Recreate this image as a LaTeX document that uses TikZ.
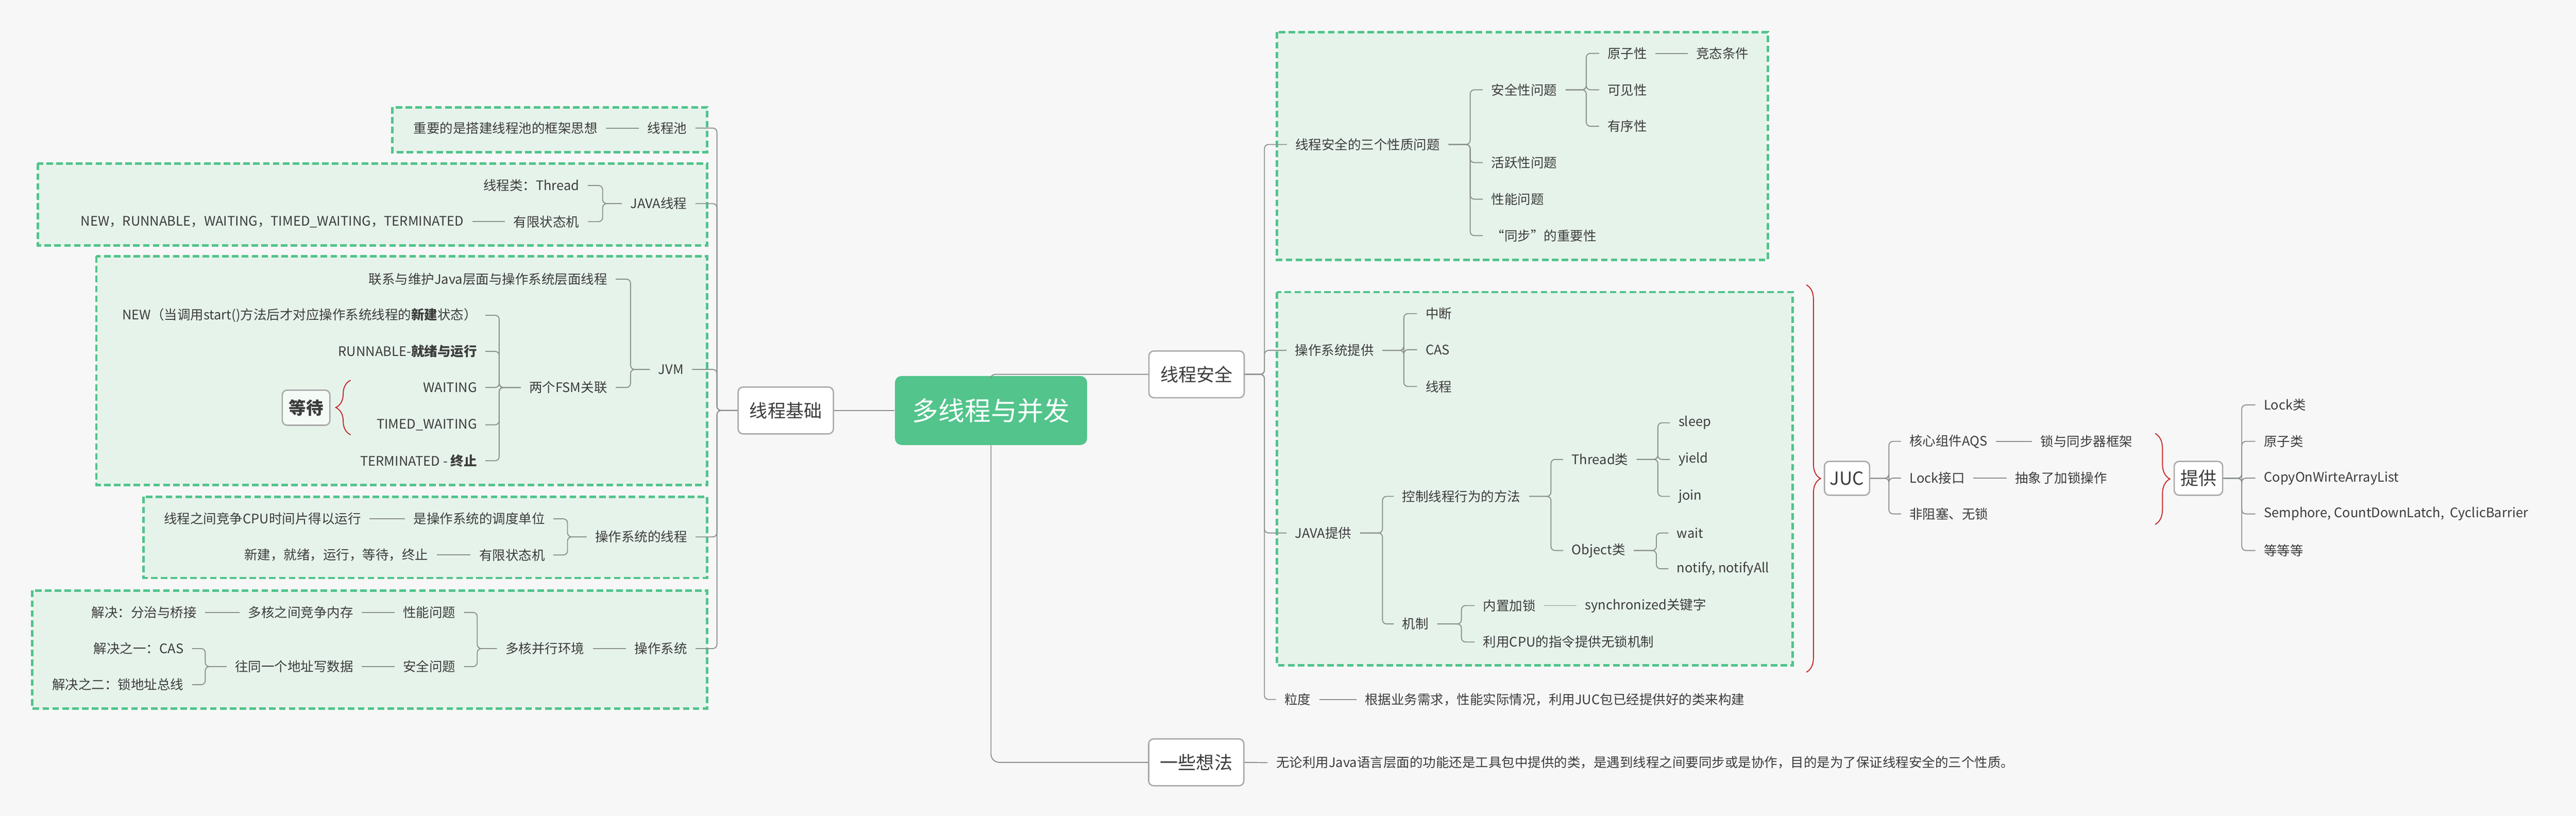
\documentclass[tikz,border=0pt]{standalone}
\usepackage{fontspec}
\setmainfont{Noto Sans CJK SC}
\usepackage{tikz}
\usetikzlibrary{decorations.pathreplacing}
\definecolor{paper}{HTML}{F7F7F7}
\definecolor{ink}{HTML}{3C3C3C}
\definecolor{wire}{HTML}{8C918E}
\definecolor{edge}{HTML}{A8A8A8}
\definecolor{rootgreen}{HTML}{52C48C}
\definecolor{zonegreen}{HTML}{52C48C}
\definecolor{zonefill}{HTML}{E6F3EB}
\definecolor{bracered}{HTML}{C42A2A}
\tikzset{
  txt/.style={font=\fontsize{8}{10}\selectfont, text=ink, inner xsep=5pt, inner ysep=2pt},
  lft/.style={txt, anchor=east},
  rgt/.style={txt, anchor=west},
  topic/.style={draw=edge, fill=white, line width=0.8pt, rounded corners=3pt, text=ink,
    font=\fontsize{11}{13}\selectfont, inner xsep=2pt, minimum width=58pt, minimum height=28.5pt},
  subtopic/.style={topic, minimum width=#1, minimum height=20.6pt},
  root/.style={fill=rootgreen, rounded corners=4pt, text=white, font=\fontsize{16}{18}\selectfont,
    minimum width=117pt, minimum height=42pt},
  zone/.style={draw=zonegreen, fill=zonefill, line width=1.5pt, dash pattern=on 4pt off 2pt},
  link/.style={draw=wire, line width=0.6pt, rounded corners=2.5pt},
  redbrace/.style={draw=bracered, line width=0.6pt, decorate, decoration={brace, amplitude=#1}}
}
\begin{document}
\begin{tikzpicture}[x=1pt, y=-1pt]
\fill[paper] (0,0) rectangle (1568.75,496.875);
\useasboundingbox (0,0) rectangle (1568.75,496.875);

\draw[zone] (239,65.3) rectangle (430.7,92.6);
\draw[zone] (23,99.6) rectangle (430.7,149.5);
\draw[zone] (58.7,156) rectangle (430.7,295.3);
\draw[zone] (87.3,302.6) rectangle (430.7,352);
\draw[zone] (19.7,359.7) rectangle (430.7,431.5);
\draw[zone] (777.7,19.6) rectangle (1076.5,158.3);
\draw[zone] (777.7,177.9) rectangle (1091.6,405.3);

\node[root] (root) at (603.5,250) {多线程与并发};
\node[topic] (base) at (478.5,250) {线程基础};
\node[topic] (safe) at (728.7,228) {线程安全};
\node[topic] (idea) at (728.5,464.3) {一些想法};

\node[lft] (pool) at (423.5,78) {线程池};
\node[lft] (poolidea) at (369,78) {重要的是搭建线程池的框架思想};
\node[lft] (jthread) at (423.5,124) {JAVA线程};
\node[lft] (tclass) at (358,113) {线程类：Thread};
\node[lft] (fsm1) at (358,135) {有限状态机};
\node[lft] (states1) at (287.7,135) {NEW，RUNNABLE，WAITING，TIMED\_WAITING，TERMINATED};
\node[lft] (jvm) at (421.5,225) {JVM};
\node[lft] (jvmlink) at (375,170) {联系与维护Java层面与操作系统层面线程};
\node[lft] (twofsm) at (375,236) {两个FSM关联};
\node[lft] (snew) at (295.6,192) {NEW（当调用start()方法后才对应操作系统线程的\textbf{新建}状态）};
\node[lft] (srun) at (295.6,214) {RUNNABLE-\textbf{就绪与运行}};
\node[lft] (swait) at (295.6,236) {WAITING};
\node[lft] (stimed) at (295.6,258.7) {TIMED\_WAITING};
\node[lft] (sterm) at (295.6,280.6) {TERMINATED - \textbf{终止}};
\node[subtopic=29pt, fill=white!55!zonefill, font=\fontsize{10.5}{12}\selectfont\bfseries, minimum height=21.4pt] (waitbox) at (186.4,248.3) {等待};
\node[lft] (osthread) at (423.6,327) {操作系统的线程};
\node[lft] (sched) at (337,316) {是操作系统的调度单位};
\node[lft] (cpu) at (225,316) {线程之间竞争CPU时间片得以运行};
\node[lft] (fsm2) at (337,338) {有限状态机};
\node[lft] (states2) at (266,338) {新建，就绪，运行，等待，终止};
\node[lft] (os) at (423.6,395) {操作系统};
\node[lft] (multi) at (361,395) {多核并行环境};
\node[lft] (perf) at (282.6,373) {性能问题};
\node[lft] (memrace) at (220.4,373) {多核之间竞争内存};
\node[lft] (divide) at (125,373) {解决：分治与桥接};
\node[lft] (safe2) at (282.6,406) {安全问题};
\node[lft] (sameaddr) at (220.4,406) {往同一个地址写数据};
\node[lft] (cas1) at (117,395) {解决之一：CAS};
\node[lft] (lockbus) at (117,417) {解决之二：锁地址总线};

\node[rgt] (three) at (783.7,88) {线程安全的三个性质问题};
\node[rgt] (secq) at (903,54.7) {安全性问题};
\node[rgt] (live) at (903,99) {活跃性问题};
\node[rgt] (perfq) at (903,121.3) {性能问题};
\node[rgt] (sync) at (903,143.5) {“同步”的重要性};
\node[rgt] (atom) at (973.8,32.5) {原子性};
\node[rgt] (visible) at (973.8,54.7) {可见性};
\node[rgt] (order) at (973.8,76.9) {有序性};
\node[rgt] (race) at (1027.7,32.5) {竞态条件};
\node[rgt] (osprov) at (783.5,213.4) {操作系统提供};
\node[rgt] (intr) at (863,191) {中断};
\node[rgt] (cas2) at (863,213) {CAS};
\node[rgt] (thr) at (863,235.4) {线程};
\node[rgt] (javaprov) at (783.5,324.6) {JAVA提供};
\node[rgt] (ctrl) at (848.8,302.3) {控制线程行为的方法};
\node[rgt] (mech) at (848.8,380) {机制};
\node[rgt] (thcls) at (951.9,279.8) {Thread类};
\node[rgt] (objcls) at (952,335.3) {Object类};
\node[rgt] (sleep) at (1017,257.5) {sleep};
\node[rgt] (yield) at (1017,279.8) {yield};
\node[rgt] (join) at (1017,302.3) {join};
\node[rgt] (wait) at (1016,324.6) {wait};
\node[rgt] (notify) at (1016,346.4) {notify, notifyAll};
\node[rgt] (builtin) at (898,368.8) {内置加锁};
\node[rgt] (synckw) at (960,368.8) {synchronized关键字};
\node[rgt] (cpulock) at (898,391) {利用CPU的指令提供无锁机制};
\node[rgt] (grain) at (777,426) {粒度};
\node[rgt] (grainnote) at (826,426) {根据业务需求，性能实际情况，利用JUC包已经提供好的类来构建};
\node[rgt] (ideatext) at (772,464.5) {无论利用Java语言层面的功能还是工具包中提供的类，是遇到线程之间要同步或是协作，目的是为了保证线程安全的三个性质。};

\node[subtopic=27.5pt] (juc) at (1124.8,291.3) {JUC};
\node[rgt] (aqs) at (1157.7,268.8) {核心组件AQS};
\node[rgt] (syncfw) at (1237.5,268.8) {锁与同步器框架};
\node[rgt] (lockif) at (1157.7,291.2) {Lock接口};
\node[rgt] (abslock) at (1222,291.2) {抽象了加锁操作};
\node[rgt] (nonblock) at (1157.7,313) {非阻塞、无锁};
\node[subtopic=29.5pt] (provide) at (1338.8,291.3) {提供};
\node[rgt] (lockcls) at (1373.5,246.6) {Lock类};
\node[rgt] (atomcls) at (1373.5,268.8) {原子类};
\node[rgt] (cow) at (1373.5,291.2) {CopyOnWirteArrayList};
\node[rgt] (semaphore) at (1373.5,313) {Semphore, CountDownLatch,~ CyclicBarrier};
\node[rgt] (etc) at (1373.5,335.3) {等等等};

\draw[link] (root.west) -- (base.east);
\draw[link] (root.north) |- (safe.west);
\draw[link, rounded corners=5pt] (root.south) |- (idea.west);

\foreach \c in {pool,jthread,jvm,osthread,os}
  \draw[link] (base.west) -- (436.6,0 |- base.west) |- (\c.east);
\draw[link] (pool.west) -- (poolidea.east);
\foreach \c in {tclass,fsm1}
  \draw[link] (jthread.west) -- (367,0 |- jthread.west) |- (\c.east);
\draw[link] (fsm1.west) -- (states1.east);
\foreach \c in {jvmlink,twofsm}
  \draw[link] (jvm.west) -- (384,0 |- jvm.west) |- (\c.east);
\foreach \c in {snew,srun,swait,stimed,sterm}
  \draw[link] (twofsm.west) -- (304,0 |- twofsm.west) |- (\c.east);
\foreach \c in {sched,fsm2}
  \draw[link] (osthread.west) -- (345.6,0 |- osthread.west) |- (\c.east);
\draw[link] (sched.west) -- (cpu.east);
\draw[link] (fsm2.west) -- (states2.east);
\draw[link] (os.west) -- (multi.east);
\foreach \c in {perf,safe2}
  \draw[link] (multi.west) -- (290.6,0 |- multi.west) |- (\c.east);
\draw[link] (perf.west) -- (memrace.east);
\draw[link] (memrace.west) -- (divide.east);
\draw[link] (safe2.west) -- (sameaddr.east);
\foreach \c in {cas1,lockbus}
  \draw[link] (sameaddr.west) -- (125,0 |- sameaddr.west) |- (\c.east);
\draw[redbrace=9pt] (213.5,264.8) -- (213.5,231.6);

\foreach \c in {three,osprov,javaprov,grain}
  \draw[link] (safe.east) -- (770,0 |- safe.east) |- (\c.west);
\foreach \c in {secq,live,perfq,sync}
  \draw[link] (three.east) -- (895.3,0 |- three.east) |- (\c.west);
\foreach \c in {atom,visible,order}
  \draw[link] (secq.east) -- (966,0 |- secq.east) |- (\c.west);
\draw[link] (atom.east) -- (race.west);
\foreach \c in {intr,cas2,thr}
  \draw[link] (osprov.east) -- (854.9,0 |- osprov.east) |- (\c.west);
\foreach \c in {ctrl,mech}
  \draw[link] (javaprov.east) -- (841.9,0 |- javaprov.east) |- (\c.west);
\foreach \c in {thcls,objcls}
  \draw[link] (ctrl.east) -- (944.5,0 |- ctrl.east) |- (\c.west);
\foreach \c in {sleep,yield,join}
  \draw[link] (thcls.east) -- (1009.6,0 |- thcls.east) |- (\c.west);
\foreach \c in {wait,notify}
  \draw[link] (objcls.east) -- (1008.7,0 |- objcls.east) |- (\c.west);
\foreach \c in {builtin,cpulock}
  \draw[link] (mech.east) -- (890,0 |- mech.east) |- (\c.west);
\draw[link] (builtin.east) -- (synckw.west);
\draw[link] (grain.east) -- (grainnote.west);
\draw[link] (idea.east) -- (ideatext.west);

\draw[redbrace=8.7pt] (1100,173.5) -- (1100,409.4);
\foreach \c in {aqs,lockif,nonblock}
  \draw[link] (juc.east) -- (1150.3,0 |- juc.east) |- (\c.west);
\draw[link] (aqs.east) -- (syncfw.west);
\draw[link] (lockif.east) -- (abslock.west);
\draw[redbrace=9pt] (1312.4,264) -- (1312.4,319.4);
\foreach \c in {lockcls,atomcls,cow,semaphore,etc}
  \draw[link] (provide.east) -- (1365.2,0 |- provide.east) |- (\c.west);
\end{tikzpicture}
\end{document}
